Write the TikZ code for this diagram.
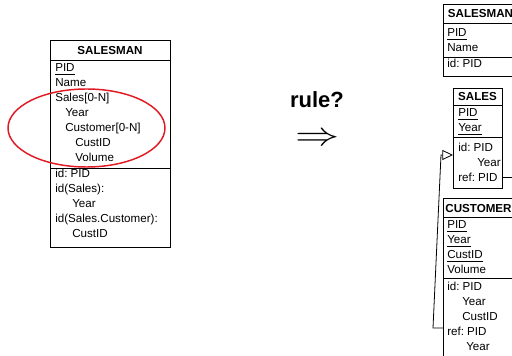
\documentclass[tikz,border=0pt]{standalone}
\usepackage{fontspec}
\setmainfont{Liberation Sans}
\usetikzlibrary{arrows.meta,shapes.geometric}
\definecolor{groupred}{RGB}{225,25,35}
\frenchspacing
% one compartment of an entity box, given by its corners
\newcommand\erbox[5]{\node[cell, minimum width={(#4-#2)*0.75pt}, minimum height={(#5-#3)*0.75pt}] (#1) at ({(#2+#4)/2},{(#3+#5)/2}) {};}
\begin{document}
\begin{tikzpicture}[x=0.75pt,y=-0.75pt,
  cell/.style={draw, line width=0.6pt, inner sep=0pt, outer sep=0pt},
  attr/.style={anchor=base west, inner sep=0pt, font=\fontsize{8.7}{10}\selectfont},
  title/.style={anchor=base, inner sep=0pt, font=\fontsize{8.7}{10}\selectfont\bfseries},
  link/.style={draw, line width=0.6pt},
  idarrow/.style={-{Triangle[open,length=8pt,width=7.5pt]}},
]
\useasboundingbox (0,0) rectangle (512,356);
\clip (0,0) rectangle (512,356);

% ---- source entity with nested compound attribute ----
\erbox{Lh}{50}{40}{170}{60}
\erbox{La}{50}{60}{170}{168}
\erbox{Lk}{50}{168}{170}{247}
\node[title] (Lt) at (110,54.5) {SALESMAN};
\node[attr] (L1) at (55,72) {\underline{PID}};
\node[attr] (L2) at (55,87) {Name};
\node[attr] (L3) at (55,102) {Sales[0-N]};
\node[attr] (L4) at (65,117) {Year};
\node[attr] (L5) at (65,132) {Customer[0-N]};
\node[attr] (L6) at (75,147) {CustID};
\node[attr] (L7) at (75,162) {Volume};
\node[attr] (L8) at (55,178) {id: PID};
\node[attr] (L9) at (55,193) {id(Sales):};
\node[attr] (L10) at (72,208) {Year};
\node[attr] (L11) at (55,223) {id(Sales.Customer):};
\node[attr] (L12) at (72,238) {CustID};

% highlighted group
\node[draw=groupred, line width=1.1pt, ellipse, inner sep=0pt,
      minimum width={157*0.75pt}, minimum height={78*0.75pt}] (grp) at (86.5,128) {};

% ---- transformation ----
\node[inner sep=0pt, anchor=base, font=\fontsize{16.5}{18}\selectfont\bfseries] (rule) at (317,108) {rule?};
\node[inner sep=0pt, xscale=1.33, font=\fontsize{38}{38}\selectfont] (imp) at (318,139) {$\Rightarrow$};

% ---- SALESMAN ----
\erbox{Ah}{443}{4}{518}{23}
\erbox{Aa}{443}{23}{518}{57}
\erbox{Ak}{443}{57}{518}{76}
\node[title] (At) at (480.5,18) {SALESMAN};
\node[attr] (A1) at (447,37) {\underline{PID}};
\node[attr] (A2) at (447,52) {Name};
\node[attr] (A3) at (447,68) {id: PID};

% ---- SALES ----
\erbox{Bh}{453}{88}{502}{105}
\erbox{Ba}{453}{105}{502}{137}
\erbox{Bk}{453}{137}{502}{188}
\node[title] (Bt) at (477.5,101) {SALES};
\node[attr] (B1) at (458,117) {\underline{PID}};
\node[attr] (B2) at (458,132) {\underline{Year}};
\node[attr] (B3) at (458,152) {id: PID};
\node[attr] (B4) at (477,167) {Year};
\node[attr] (B5) at (458,182) {ref: PID};

% ---- CUSTOMER ----
\erbox{Ch}{443}{198}{514}{217}
\erbox{Ca}{443}{217}{514}{278}
\erbox{Ck}{443}{278}{514}{380}
\node[title] (Ct) at (478.5,213) {CUSTOMER};
\node[attr] (C1) at (447,229) {\underline{PID}};
\node[attr] (C2) at (447,244) {\underline{Year}};
\node[attr] (C3) at (447,259) {\underline{CustID}};
\node[attr] (C4) at (447,274) {Volume};
\node[attr] (C5) at (447,291) {id: PID};
\node[attr] (C6) at (462,306) {Year};
\node[attr] (C7) at (462,321) {CustID};
\node[attr] (C8) at (447,336) {ref: PID};
\node[attr] (C9) at (466,351) {Year};

% ---- references ----
\coordinate (cref) at (Ck.west |- 0,328);
\coordinate (cb1) at (433,328);
\coordinate (cb2) at (441,155);
\coordinate (sid) at (Bk.west |- 0,155);
\draw[link, idarrow] (cref) -- (cb1) -- (cb2) -- (sid);

\coordinate (sref) at (Bk.east |- 0,177);
\coordinate (sout) at (530,177);
\draw[link] (sref) -- (sout);
\end{tikzpicture}
\end{document}
